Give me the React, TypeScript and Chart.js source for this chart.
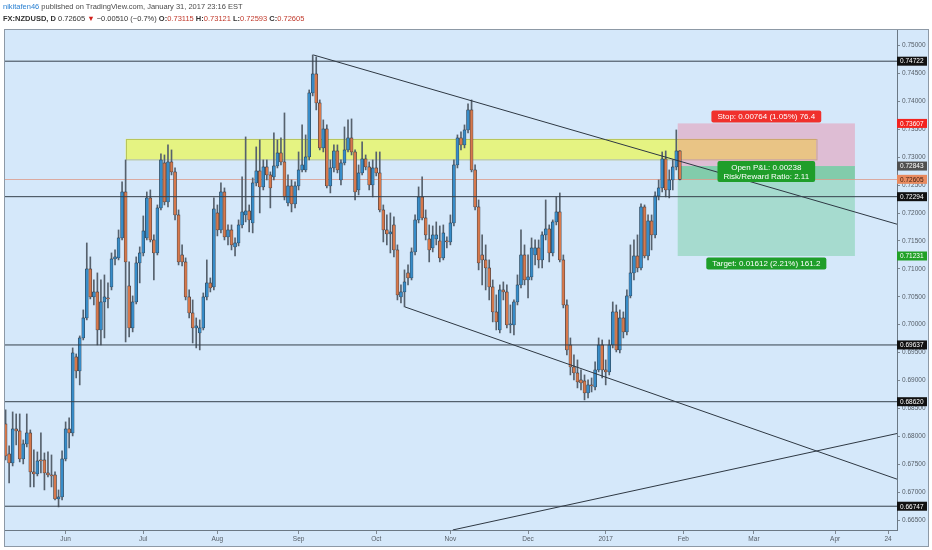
import React, { useEffect, useRef } from 'react';
import { Chart, registerables } from 'chart.js';

Chart.register(...registerables);

// ---- OHLC data (daily NZDUSD, one value per trading day, index 0 = 9 May 2016) ----
const opens = [
  0.68222, 0.67684, 0.67523, 0.68132, 0.68096, 0.67595, 0.67864, 0.68061, 0.67362, 0.67326,
  0.67577, 0.67577, 0.67344, 0.67308, 0.67308, 0.66878, 0.66914, 0.67595, 0.68132, 0.68061,
  0.69423, 0.69172, 0.69763, 0.70121, 0.71, 0.70498, 0.70587, 0.69906, 0.70408, 0.7048,
  0.70677, 0.71179, 0.71197, 0.71555, 0.72379, 0.70695, 0.69942, 0.70408, 0.71107, 0.71286,
  0.71555, 0.72272, 0.71519, 0.71286, 0.72093, 0.72899, 0.722, 0.72917, 0.72738, 0.71967,
  0.7125, 0.71125, 0.70498, 0.70211, 0.69942, 0.69853, 0.69942, 0.70498, 0.70749, 0.70677,
  0.72003, 0.71698, 0.72379, 0.71573, 0.71698, 0.71394, 0.71465, 0.71788, 0.71967, 0.72039,
  0.71824, 0.72541, 0.72756, 0.72469, 0.72827, 0.72684, 0.72648, 0.72845, 0.73078, 0.72917,
  0.72182, 0.72487, 0.72164, 0.72487, 0.72774, 0.72774, 0.73007, 0.74153, 0.74494, 0.73974,
  0.73168, 0.73508, 0.72487, 0.72809, 0.73114, 0.72594, 0.72899, 0.73132, 0.73347, 0.73096,
  0.72415, 0.7272, 0.72971, 0.72827, 0.72505, 0.72809, 0.7272, 0.72057, 0.71698, 0.71627,
  0.71788, 0.7134, 0.70498, 0.70587, 0.70928, 0.70838, 0.71304, 0.71878, 0.7229, 0.71913,
  0.71537, 0.71376, 0.71537, 0.71501, 0.71197, 0.71501, 0.71483, 0.71824, 0.72863, 0.73347,
  0.73222, 0.7349, 0.73849, 0.72774, 0.72111, 0.7125, 0.71161, 0.71017, 0.70677, 0.70229,
  0.69906, 0.70623, 0.70587, 0.69996, 0.69996, 0.70408, 0.70713, 0.7125, 0.70802, 0.70856,
  0.7125, 0.71376, 0.71161, 0.71609, 0.71716, 0.71286, 0.71842, 0.72021, 0.71161, 0.70354,
  0.69638, 0.69243, 0.69136, 0.6901, 0.68992, 0.68777, 0.68921, 0.68885, 0.6919, 0.69638,
  0.6919, 0.69154, 0.69638, 0.70229, 0.69548, 0.70121, 0.69871, 0.70516, 0.70928, 0.71232,
  0.71017, 0.72111, 0.71232, 0.7186, 0.71609, 0.72308, 0.72451, 0.72971, 0.72415, 0.72594,
  0.72827, 0.73115,
];
const highs = [
  0.68473, 0.67828, 0.68437, 0.68401, 0.68401, 0.67935, 0.68401, 0.68114, 0.67756, 0.6772,
  0.68061, 0.67702, 0.6772, 0.67666, 0.67362, 0.67039, 0.67738, 0.68258, 0.68329, 0.69584,
  0.69476, 0.69799, 0.70265, 0.71465, 0.71215, 0.70802, 0.70928, 0.70802, 0.70892, 0.70749,
  0.71286, 0.7134, 0.71698, 0.72559, 0.72953, 0.71125, 0.70516, 0.71215, 0.71394, 0.71949,
  0.72379, 0.72415, 0.71609, 0.72146, 0.7306, 0.73042, 0.73222, 0.73132, 0.72809, 0.72057,
  0.7143, 0.71197, 0.70623, 0.70444, 0.70121, 0.70086, 0.70569, 0.71161, 0.70838, 0.72272,
  0.72146, 0.72541, 0.72451, 0.71788, 0.71788, 0.71555, 0.71878, 0.72648, 0.73365, 0.72146,
  0.7263, 0.73186, 0.73311, 0.72953, 0.72953, 0.72738, 0.73437, 0.73311, 0.73347, 0.73795,
  0.72684, 0.72594, 0.72559, 0.73096, 0.7358, 0.73401, 0.74207, 0.74834, 0.74799, 0.74028,
  0.7367, 0.7358, 0.72953, 0.73222, 0.73222, 0.72953, 0.73544, 0.7367, 0.73688, 0.73132,
  0.72863, 0.73275, 0.73042, 0.72917, 0.72953, 0.73096, 0.73096, 0.72146, 0.71967, 0.72003,
  0.71931, 0.7143, 0.70713, 0.70982, 0.71071, 0.71376, 0.71967, 0.72469, 0.72648, 0.72057,
  0.71788, 0.7177, 0.71842, 0.7177, 0.71788, 0.71573, 0.71967, 0.72953, 0.73401, 0.73455,
  0.7358, 0.73956, 0.74028, 0.72863, 0.72236, 0.71609, 0.7143, 0.71161, 0.70802, 0.70534,
  0.70713, 0.70767, 0.70713, 0.70354, 0.70444, 0.70892, 0.71698, 0.7143, 0.7125, 0.71555,
  0.71519, 0.71519, 0.71663, 0.72236, 0.71788, 0.71878, 0.7229, 0.72361, 0.7125, 0.70444,
  0.69763, 0.69458, 0.69369, 0.6919, 0.691, 0.6901, 0.69046, 0.69333, 0.69763, 0.69727,
  0.69369, 0.69727, 0.70408, 0.70354, 0.70265, 0.70229, 0.70623, 0.7143, 0.71519, 0.71609,
  0.72164, 0.72146, 0.71967, 0.71967, 0.72379, 0.72594, 0.73096, 0.73114, 0.72774, 0.72953,
  0.7349, 0.73121,
];
const lows = [
  0.67577, 0.67165, 0.67469, 0.67846, 0.67541, 0.67505, 0.6781, 0.67093, 0.67093, 0.6729,
  0.67344, 0.67039, 0.67272, 0.67093, 0.6686, 0.66735, 0.6686, 0.67559, 0.67792, 0.68007,
  0.69046, 0.68921, 0.69727, 0.70086, 0.70462, 0.70354, 0.69638, 0.69638, 0.69763, 0.70301,
  0.70623, 0.71071, 0.71161, 0.71519, 0.69691, 0.69781, 0.69871, 0.70372, 0.70749, 0.71232,
  0.71519, 0.71483, 0.70802, 0.7125, 0.72057, 0.72146, 0.72111, 0.72684, 0.71878, 0.71071,
  0.71053, 0.70444, 0.70121, 0.69673, 0.69584, 0.69548, 0.69906, 0.70444, 0.70587, 0.70623,
  0.71591, 0.71645, 0.71519, 0.7143, 0.7134, 0.71232, 0.71412, 0.71734, 0.71842, 0.71663,
  0.71645, 0.72487, 0.72003, 0.72415, 0.72594, 0.72093, 0.72594, 0.72809, 0.72863, 0.72236,
  0.72128, 0.72021, 0.72093, 0.72415, 0.72738, 0.72738, 0.72953, 0.741, 0.73849, 0.73132,
  0.73096, 0.72451, 0.72361, 0.72738, 0.7272, 0.72505, 0.72863, 0.73096, 0.73042, 0.72236,
  0.72326, 0.72684, 0.72774, 0.72415, 0.7229, 0.72666, 0.72021, 0.71483, 0.7143, 0.71286,
  0.71215, 0.70444, 0.7039, 0.70319, 0.70713, 0.70802, 0.7125, 0.71824, 0.71878, 0.71519,
  0.71125, 0.71304, 0.7143, 0.71125, 0.71161, 0.71376, 0.7143, 0.7177, 0.72809, 0.73132,
  0.73168, 0.73437, 0.72738, 0.72057, 0.70982, 0.70713, 0.70623, 0.70444, 0.7005, 0.69906,
  0.69853, 0.70444, 0.69942, 0.69853, 0.69817, 0.70354, 0.70659, 0.70713, 0.7048, 0.70802,
  0.71071, 0.71017, 0.71017, 0.71519, 0.71125, 0.71232, 0.71788, 0.71125, 0.70301, 0.69458,
  0.691, 0.6901, 0.68867, 0.68831, 0.68652, 0.68688, 0.68795, 0.68831, 0.69154, 0.69046,
  0.68921, 0.691, 0.69584, 0.69512, 0.69494, 0.69763, 0.69817, 0.7048, 0.70802, 0.70946,
  0.70982, 0.71197, 0.71161, 0.7134, 0.71555, 0.72236, 0.72379, 0.7229, 0.72272, 0.72415,
  0.72774, 0.72593,
];
const closes = [
  0.67648, 0.67523, 0.68132, 0.68096, 0.67595, 0.67864, 0.68061, 0.67362, 0.67326, 0.67559,
  0.67559, 0.67344, 0.67308, 0.6729, 0.66878, 0.66914, 0.67595, 0.68132, 0.68061, 0.69494,
  0.69172, 0.69763, 0.70121, 0.71, 0.70498, 0.70587, 0.69906, 0.70408, 0.70498, 0.70462,
  0.71179, 0.71215, 0.71555, 0.72379, 0.71125, 0.69942, 0.70408, 0.71107, 0.71286, 0.7168,
  0.72272, 0.71519, 0.71286, 0.72093, 0.72953, 0.722, 0.72917, 0.72738, 0.71967, 0.71125,
  0.71125, 0.70498, 0.70211, 0.69942, 0.69978, 0.69942, 0.70498, 0.70749, 0.70659, 0.72075,
  0.71698, 0.72379, 0.71573, 0.71698, 0.7143, 0.71465, 0.71788, 0.72021, 0.72039, 0.71878,
  0.72541, 0.72756, 0.72469, 0.72827, 0.72684, 0.72451, 0.72845, 0.73078, 0.72917, 0.7229,
  0.72487, 0.72164, 0.72487, 0.72774, 0.72863, 0.73007, 0.74153, 0.74494, 0.73974, 0.73168,
  0.73508, 0.72487, 0.72809, 0.73114, 0.72774, 0.72899, 0.73132, 0.73347, 0.73096, 0.72379,
  0.7272, 0.72971, 0.72827, 0.72505, 0.72809, 0.7272, 0.72057, 0.71698, 0.71627, 0.71663,
  0.7134, 0.70534, 0.70587, 0.70767, 0.70838, 0.71304, 0.71878, 0.7229, 0.71913, 0.71609,
  0.7134, 0.71609, 0.71609, 0.71197, 0.71645, 0.71483, 0.71824, 0.72863, 0.73347, 0.73222,
  0.7349, 0.73849, 0.72774, 0.72111, 0.71107, 0.71161, 0.71017, 0.70677, 0.70229, 0.7005,
  0.70623, 0.70587, 0.69996, 0.70014, 0.70408, 0.70713, 0.7125, 0.70802, 0.70856, 0.71376,
  0.71376, 0.71161, 0.71609, 0.71716, 0.71286, 0.71842, 0.72021, 0.71161, 0.70354, 0.69548,
  0.69243, 0.69136, 0.68975, 0.68957, 0.68777, 0.68921, 0.68903, 0.6919, 0.69638, 0.6919,
  0.69154, 0.69638, 0.70229, 0.69548, 0.70121, 0.69871, 0.70516, 0.70928, 0.71232, 0.71017,
  0.72111, 0.71232, 0.7186, 0.71609, 0.72308, 0.72451, 0.72971, 0.72415, 0.72594, 0.72827,
  0.73115, 0.72605,
];

// ---- axes ----
const xTickPositions = [17, 39, 60, 83, 105, 126, 148, 170, 192, 212, 235, 250];
const xTickLabels = ['Jun', 'Jul', 'Aug', 'Sep', 'Oct', 'Nov', 'Dec', '2017', 'Feb', 'Mar', 'Apr', '24'];
const yTickValues = [
  0.665, 0.67, 0.675, 0.68, 0.685, 0.69, 0.695, 0.7, 0.705, 0.71, 0.715, 0.72, 0.725, 0.73,
  0.735, 0.74, 0.745, 0.75,
];
const X_MIN = -0.17;
const X_MAX = 252.52;
const Y_MIN = 0.66321;
const Y_MAX = 0.75281;

// ---- drawings ----
const levelPrices = [0.74722, 0.72294, 0.69637, 0.6862, 0.66747];
const trendUpperX = [87.2, 252.52];
const trendUpperY = [0.74834, 0.71801];
const trendLowerX = [113.1, 252.52];
const trendLowerY = [0.70319, 0.67232];
const trendRiseX = [126.7, 252.52];
const trendRiseY = [0.66322, 0.6805];
const zoneX = [34, 229.6];
const zoneY = [0.7333, 0.72965];
const positionX = [190.4, 240.6];
const stopPrice = 0.73607;
const entryPrice = 0.72843;
const targetPrice = 0.71231;
const lastPrice = 0.72605;
const stopText = ['Stop: 0.00764 (1.05%) 76.4'];
const pnlText = ['Open P&L: 0.00238', 'Risk/Reward Ratio: 2.11'];
const targetText = ['Target: 0.01612 (2.21%) 161.2'];

// ---- price marks on the right axis ----
const axisMarkPrices = [0.74722, 0.73607, 0.72843, 0.72605, 0.72294, 0.71231, 0.69637, 0.6862, 0.66747];
const axisMarkColors = ['#111111', '#f3231f', '#505050', '#e88a5f', '#111111', '#21a127', '#111111', '#111111', '#111111'];
const axisMarkTextColors = ['#ffffff', '#ffffff', '#ffffff', '#3b1d10', '#ffffff', '#ffffff', '#ffffff', '#ffffff', '#ffffff'];

const BG = '#d5e8fa';
const UP = '#378cc8';
const DOWN = '#d7784b';
const FONT = 'Arial, "Liberation Sans", sans-serif';

function drawTag(ctx: CanvasRenderingContext2D, lines: string[], cx: number, cy: number, color: string) {
  ctx.save();
  ctx.font = `8px ${FONT}`;
  const lh = 9;
  const w = Math.max(...lines.map((l) => ctx.measureText(l).width)) + 12;
  const h = lines.length * lh + 3;
  ctx.fillStyle = color;
  ctx.beginPath();
  (ctx as any).roundRect(cx - w / 2, cy - h / 2, w, h, 2);
  ctx.fill();
  ctx.fillStyle = '#ffffff';
  ctx.textAlign = 'center';
  ctx.textBaseline = 'middle';
  lines.forEach((l, k) => {
    ctx.fillText(l, cx, cy - h / 2 + 1.5 + lh * k + lh / 2 + 0.5);
  });
  ctx.restore();
}

const tvPlugin = {
  id: 'tvPlugin',
  beforeDraw(chart: any) {
    const ctx = chart.ctx as CanvasRenderingContext2D;
    ctx.save();
    ctx.fillStyle = BG;
    ctx.fillRect(4, 29, 925, 518);
    ctx.restore();
  },
  beforeDatasetsDraw(chart: any) {
    const { ctx, chartArea, scales } = chart;
    const x = scales.x;
    const y = scales.y;
    ctx.save();
    ctx.beginPath();
    ctx.rect(chartArea.left, chartArea.top, chartArea.right - chartArea.left, chartArea.bottom - chartArea.top);
    ctx.clip();
    // yellow resistance zone
    const zx0 = x.getPixelForValue(zoneX[0]);
    const zx1 = x.getPixelForValue(zoneX[1]);
    const zy0 = y.getPixelForValue(zoneY[0]);
    const zy1 = y.getPixelForValue(zoneY[1]);
    ctx.fillStyle = 'rgba(240,250,50,0.6)';
    ctx.fillRect(zx0, zy0, zx1 - zx0, zy1 - zy0);
    ctx.strokeStyle = 'rgba(150,160,60,0.55)';
    ctx.lineWidth = 1;
    ctx.strokeRect(Math.round(zx0) + 0.5, Math.round(zy0) + 0.5, zx1 - zx0, zy1 - zy0);
    // long position box
    const px0 = x.getPixelForValue(positionX[0]);
    const px1 = x.getPixelForValue(positionX[1]);
    const ys = y.getPixelForValue(stopPrice);
    const ye = y.getPixelForValue(entryPrice);
    const yt = y.getPixelForValue(targetPrice);
    const yl = y.getPixelForValue(lastPrice);
    ctx.fillStyle = 'rgba(240,110,140,0.35)';
    ctx.fillRect(px0, ys, px1 - px0, ye - ys);
    ctx.fillStyle = 'rgba(70,195,120,0.33)';
    ctx.fillRect(px0, ye, px1 - px0, yt - ye);
    ctx.fillStyle = 'rgba(40,165,80,0.28)';
    ctx.fillRect(px0, ye, px1 - px0, yl - ye);
    // last price line
    ctx.strokeStyle = 'rgba(220,150,130,0.75)';
    ctx.beginPath();
    ctx.moveTo(chartArea.left, Math.round(yl) + 0.5);
    ctx.lineTo(chartArea.right, Math.round(yl) + 0.5);
    ctx.stroke();
    ctx.restore();
  },
  afterDatasetsDraw(chart: any) {
    const { ctx, scales } = chart;
    const x = scales.x;
    const y = scales.y;
    const cx = (x.getPixelForValue(positionX[0]) + x.getPixelForValue(positionX[1])) / 2;
    drawTag(ctx, stopText, cx, y.getPixelForValue(stopPrice) - 7, '#f0302c');
    drawTag(ctx, pnlText, cx, y.getPixelForValue(entryPrice) + 5.5, '#1f9e2a');
    drawTag(ctx, targetText, cx, y.getPixelForValue(targetPrice) + 7.5, '#1f9e2a');
  },
  afterDraw(chart: any) {
    const { ctx, scales, chartArea } = chart;
    const y = scales.y;
    ctx.save();
    ctx.font = `6.5px ${FONT}`;
    ctx.textBaseline = 'middle';
    ctx.textAlign = 'left';
    axisMarkPrices.forEach((p, k) => {
      const py = y.getPixelForValue(p);
      ctx.fillStyle = axisMarkColors[k];
      ctx.fillRect(chartArea.right, py - 4.5, 30, 9);
      ctx.fillStyle = axisMarkTextColors[k];
      ctx.fillText(p.toFixed(5), chartArea.right + 3, py + 0.5);
    });
    ctx.strokeStyle = '#8d99a6';
    ctx.lineWidth = 1;
    ctx.strokeRect(4.5, 29.5, 924, 517);
    ctx.restore();
  },
};

export default function App() {
  const canvasRef = useRef<HTMLCanvasElement | null>(null);

  useEffect(() => {
    if (!canvasRef.current) return;
    const idx = opens.map((_, i) => i);
    const wickData = idx.map((i) => ({ x: i, y: [lows[i], highs[i]] }));
    const bodyData = idx.map((i) => ({ x: i, y: [opens[i], closes[i]] }));
    const bodyColors = idx.map((i) => (closes[i] >= opens[i] ? UP : DOWN));

    const lineDs = (xs: number[], ys: number[], color: string) => ({
      type: 'line' as const,
      data: xs.map((v, k) => ({ x: v, y: ys[k] })),
      borderColor: color,
      borderWidth: 1,
      pointRadius: 0,
      fill: false,
      order: 1,
    });

    const datasets: any[] = [
      {
        type: 'bar',
        data: wickData,
        barThickness: 1,
        backgroundColor: '#56616d',
        grouped: false,
        order: 3,
      },
      {
        type: 'bar',
        data: bodyData,
        barThickness: 3,
        backgroundColor: bodyColors,
        borderColor: '#2d3844',
        borderWidth: 0.6,
        borderSkipped: false,
        minBarLength: 1,
        grouped: false,
        order: 2,
      },
      ...levelPrices.map((p) => lineDs([X_MIN, X_MAX], [p, p], '#36414c')),
      lineDs(trendUpperX, trendUpperY, '#2e3843'),
      lineDs(trendLowerX, trendLowerY, '#2e3843'),
      lineDs(trendRiseX, trendRiseY, '#2e3843'),
    ];

    const chart = new Chart(canvasRef.current, {
      type: 'bar',
      data: { datasets },
      options: {
        responsive: false,
        animation: false,
        devicePixelRatio: 1,
        layout: { padding: { left: 5, top: 30, right: 3, bottom: 4 } },
        plugins: { legend: { display: false }, tooltip: { enabled: false } },
        scales: {
          x: {
            type: 'linear',
            min: X_MIN,
            max: X_MAX,
            offset: false,
            afterBuildTicks: (s: any) => {
              s.ticks = xTickPositions.map((v) => ({ value: v }));
            },
            afterFit: (s: any) => {
              s.height = 16;
            },
            ticks: {
              autoSkip: false,
              maxRotation: 0,
              padding: 1,
              color: '#555d66',
              font: { size: 6.5, family: FONT },
              callback: (_v: any, i: number) => xTickLabels[i],
            },
            grid: { offset: false, drawOnChartArea: false, drawTicks: true, tickLength: 4, color: '#7d8893' },
            border: { display: true, color: '#6b7884' },
          },
          y: {
            type: 'linear',
            position: 'right',
            min: Y_MIN,
            max: Y_MAX,
            afterBuildTicks: (s: any) => {
              s.ticks = yTickValues.map((v) => ({ value: v }));
            },
            afterFit: (s: any) => {
              s.width = 32;
            },
            ticks: {
              padding: 2,
              color: '#555d66',
              font: { size: 6.5, family: FONT },
              callback: (v: any) => Number(v).toFixed(5),
            },
            grid: { drawOnChartArea: false, drawTicks: true, tickLength: 3, color: '#7d8893' },
            border: { display: true, color: '#6b7884' },
          },
        },
      } as any,
      plugins: [tvPlugin],
    });
    return () => chart.destroy();
  }, []);

  const red = '#c0392b';
  return (
    <div
      style={{
        position: 'absolute',
        left: 0,
        top: 0,
        width: 932,
        height: 550,
        background: '#ffffff',
        overflow: 'hidden',
        fontFamily: FONT,
      }}
    >
      <canvas ref={canvasRef} width={932} height={550} style={{ position: 'absolute', left: 0, top: 0, display: 'block' }} />
      <div style={{ position: 'absolute', left: 3, top: 2, fontSize: 7.5, lineHeight: '10px', color: '#4a4a4a', whiteSpace: 'nowrap' }}>
        <span style={{ color: '#2b81d2' }}>nikitafen46</span> published on TradingView.com, January 31, 2017 23:16 EST
      </div>
      <div style={{ position: 'absolute', left: 3, top: 14, fontSize: 7.5, lineHeight: '10px', color: '#333', whiteSpace: 'nowrap' }}>
        <b>FX:NZDUSD, D</b> 0.72605 <span style={{ color: '#d0201c' }}>▼</span> −0.00510 (−0.7%) <b>O:</b>
        <span style={{ color: red }}>0.73115</span> <b>H:</b><span style={{ color: red }}>0.73121</span> <b>L:</b>
        <span style={{ color: red }}>0.72593</span> <b>C:</b><span style={{ color: red }}>0.72605</span>
      </div>
    </div>
  );
}
